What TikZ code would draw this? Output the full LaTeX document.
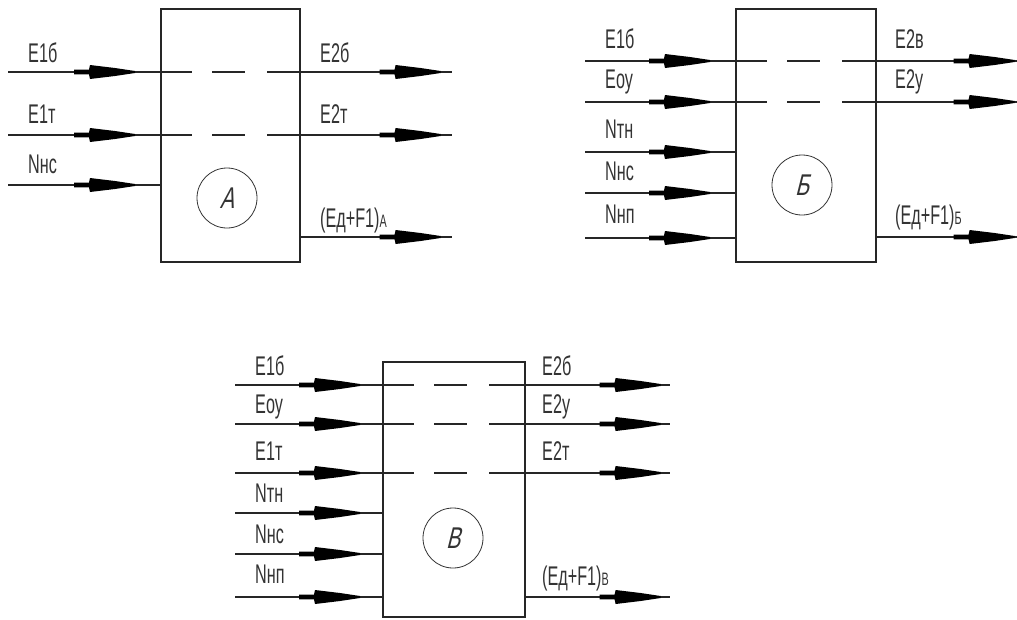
\documentclass[tikz,border=0pt]{standalone}
\usepackage{fontspec}
\usetikzlibrary{decorations.markings}
\newfontfamily\gost[FakeStretch=0.6]{Liberation Sans}
\newfontfamily\gostsl[FakeStretch=0.7,FakeSlant=0.25]{Liberation Sans}
\newcommand\lsub[1]{{\fontsize{18pt}{18pt}\selectfont #1}}
\tikzset{
  ln/.style={line width=1.2pt, draw=black!85},
  dsh/.style={ln, dash pattern=on 32pt off 20pt on 33pt off 22pt on 80pt},
  blk/.style={draw=black!85, line width=1.2pt, inner sep=0pt},
  crc/.style={circle, draw=black!80, line width=0.8pt, minimum size=60pt, inner sep=0pt,
    font=\gostsl\fontsize{30pt}{30pt}\selectfont, text=black!80},
  lbl/.style={anchor=base west, inner sep=0pt, text=black!80,
    font=\gost\fontsize{27pt}{27pt}\selectfont},
  arr/.style={postaction={decorate, decoration={markings,
    mark=at position #1 with {\fill[black] (-61pt,-2.4pt) -- (-46pt,-2.4pt) -- (-45pt,-7pt)
      -- (-20pt,-4pt) -- (0pt,-1pt) -- (0pt,1pt) -- (-20pt,4pt) -- (-45pt,7pt)
      -- (-46pt,2.4pt) -- (-61pt,2.4pt) -- cycle;}}}},
}
\begin{document}
\begin{tikzpicture}[x=1pt,y=-1pt]
\useasboundingbox (0,0) rectangle (1017,619);

% ================= A =================
\node[blk, minimum width=139pt, minimum height=253pt] (A) at (230.5,135.5) {};
\node[crc] (cA) at (227,198) {А};
\coordinate (ai1) at (8,72);
\coordinate (ai2) at (8,135);
\coordinate (ai3) at (8,185);
\coordinate (ao1) at (452,72);
\coordinate (ao2) at (452,135);
\coordinate (ao3) at (452,237);
\draw[ln, arr=127pt] (ai1) -- (ai1 -| A.west);
\draw[ln, arr=127pt] (ai2) -- (ai2 -| A.west);
\draw[ln, arr=127pt] (ai3) -- (ai3 -| A.west);
\draw[dsh] (ai1 -| A.west) -- (ai1 -| A.east);
\draw[dsh] (ai2 -| A.west) -- (ai2 -| A.east);
\draw[ln, arr=140pt] (ao1 -| A.east) -- (ao1);
\draw[ln, arr=140pt] (ao2 -| A.east) -- (ao2);
\draw[ln, arr=140pt] (ao3 -| A.east) -- (ao3);
\node[lbl] (la1) at (28,62) {E1б};
\node[lbl] (la2) at (28,123) {E1т};
\node[lbl] (la3) at (28,173) {Nнс};
\node[lbl] (lb1) at (320,62) {E2б};
\node[lbl] (lb2) at (320,123) {E2т};
\node[lbl] (lb3) at (320,227) {(Eд+F1)\lsub{А}};

% ================= Б =================
\node[blk, minimum width=140pt, minimum height=253pt] (B) at (806,135.5) {};
\node[crc] (cB) at (802,185) {Б};
\coordinate (bi1) at (585,61);
\coordinate (bi2) at (585,102);
\coordinate (bi3) at (585,152);
\coordinate (bi4) at (585,193);
\coordinate (bi5) at (585,238);
\coordinate (bo1) at (1020,61);
\coordinate (bo2) at (1020,102);
\coordinate (bo3) at (1020,237);
\draw[ln, arr=125pt] (bi1) -- (bi1 -| B.west);
\draw[ln, arr=125pt] (bi2) -- (bi2 -| B.west);
\draw[ln, arr=125pt] (bi3) -- (bi3 -| B.west);
\draw[ln, arr=125pt] (bi4) -- (bi4 -| B.west);
\draw[ln, arr=125pt] (bi5) -- (bi5 -| B.west);
\draw[dsh] (bi1 -| B.west) -- (bi1 -| B.east);
\draw[dsh] (bi2 -| B.west) -- (bi2 -| B.east);
\draw[ln, arr=138pt] (bo1 -| B.east) -- (bo1);
\draw[ln, arr=138pt] (bo2 -| B.east) -- (bo2);
\draw[ln, arr=138pt] (bo3 -| B.east) -- (bo3);
\node[lbl] (lc1) at (605,48) {E1б};
\node[lbl] (lc2) at (605,88) {Eоу};
\node[lbl] (lc3) at (605,138) {Nтн};
\node[lbl] (lc4) at (605,180) {Nнс};
\node[lbl] (lc5) at (605,223) {Nнп};
\node[lbl] (ld1) at (895,48) {E2в};
\node[lbl] (ld2) at (895,88) {E2у};
\node[lbl] (ld3) at (895,224) {(Eд+F1)\lsub{Б}};

% ================= В =================
\node[blk, minimum width=142pt, minimum height=255pt] (V) at (454,489.5) {};
\node[crc] (cV) at (453,538) {В};
\coordinate (vi1) at (235,385);
\coordinate (vi2) at (235,424);
\coordinate (vi3) at (235,473);
\coordinate (vi4) at (235,513);
\coordinate (vi5) at (235,554);
\coordinate (vi6) at (235,597);
\coordinate (vo1) at (670,385);
\coordinate (vo2) at (670,424);
\coordinate (vo3) at (670,473);
\coordinate (vo4) at (670,597);
\draw[ln, arr=125pt] (vi1) -- (vi1 -| V.west);
\draw[ln, arr=125pt] (vi2) -- (vi2 -| V.west);
\draw[ln, arr=125pt] (vi3) -- (vi3 -| V.west);
\draw[ln, arr=125pt] (vi4) -- (vi4 -| V.west);
\draw[ln, arr=125pt] (vi5) -- (vi5 -| V.west);
\draw[ln, arr=125pt] (vi6) -- (vi6 -| V.west);
\draw[dsh] (vi1 -| V.west) -- (vi1 -| V.east);
\draw[dsh] (vi2 -| V.west) -- (vi2 -| V.east);
\draw[dsh] (vi3 -| V.west) -- (vi3 -| V.east);
\draw[ln, arr=135pt] (vo1 -| V.east) -- (vo1);
\draw[ln, arr=135pt] (vo2 -| V.east) -- (vo2);
\draw[ln, arr=135pt] (vo3 -| V.east) -- (vo3);
\draw[ln, arr=135pt] (vo4 -| V.east) -- (vo4);
\node[lbl] (le1) at (255,375) {E1б};
\node[lbl] (le2) at (255,413) {Eоу};
\node[lbl] (le3) at (255,460) {E1т};
\node[lbl] (le4) at (255,502) {Nтн};
\node[lbl] (le5) at (255,543) {Nнс};
\node[lbl] (le6) at (255,583) {Nнп};
\node[lbl] (lf1) at (542,375) {E2б};
\node[lbl] (lf2) at (542,413) {E2у};
\node[lbl] (lf3) at (542,460) {E2т};
\node[lbl] (lf4) at (542,585) {(Eд+F1)\lsub{В}};
\end{tikzpicture}
\end{document}
